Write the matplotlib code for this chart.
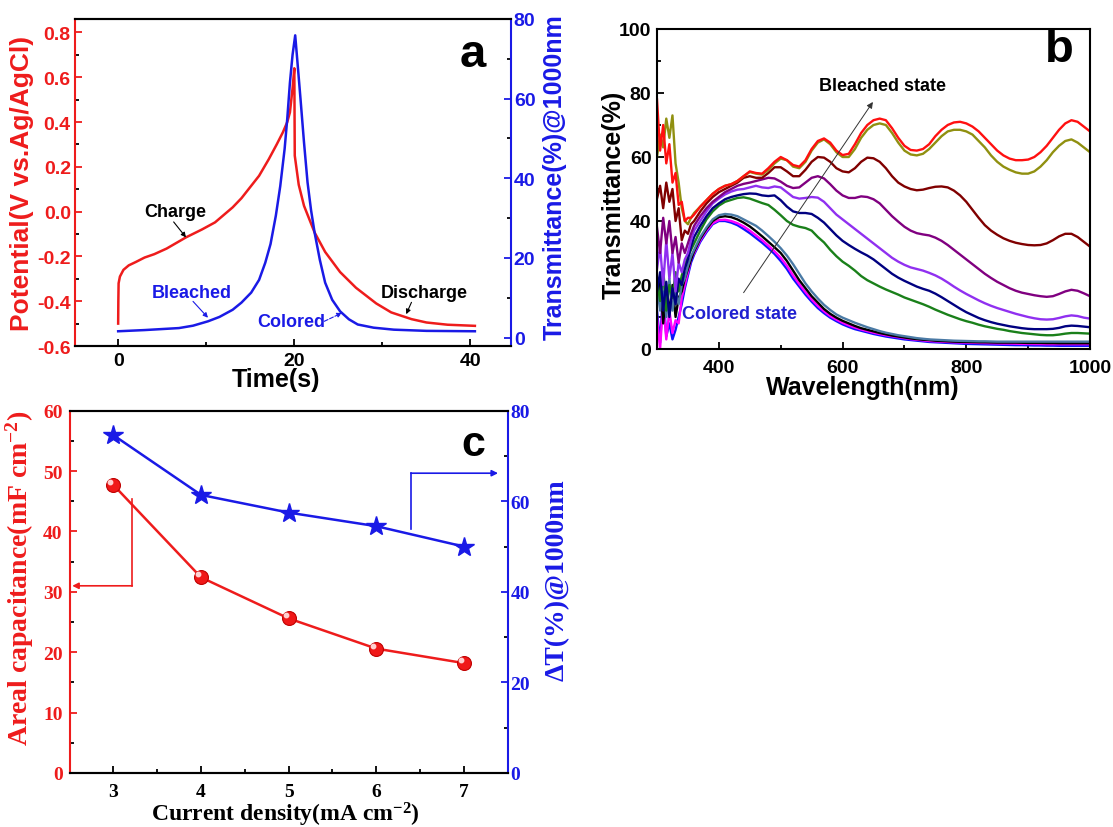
import matplotlib
matplotlib.use("Agg")
import matplotlib.pyplot as plt
from matplotlib.ticker import MultipleLocator
from matplotlib.transforms import ScaledTranslation

plt.rcParams["font.family"] = ["Liberation Sans", "DejaVu Sans"]
plt.rcParams["font.weight"] = "bold"
plt.rcParams["axes.labelweight"] = "bold"
plt.rcParams["mathtext.fontset"] = "custom"
plt.rcParams["mathtext.rm"] = "Liberation Serif:bold"
plt.rcParams["mathtext.bf"] = "Liberation Serif:bold"
plt.rcParams["mathtext.default"] = "bf"

RED = "#ee1c1c"
BLUE = "#1a1ae6"

# ---- panel a: charge / discharge and transmittance --------------------------
t_pot = [0, 0.02, 0.05, 0.2, 0.6, 1.2, 2, 3, 4.1, 5.5, 7.7, 9.5, 11, 13, 14, 15.1,
         16, 17.1, 18, 18.7, 19.2, 19.5, 19.8, 20.0, 20.05, 20.5, 21.1, 22.3, 23.5,
         25.2, 27, 29.3, 31, 33.3, 35, 37.4, 40.5]
potential = [-0.50, -0.40, -0.32, -0.29, -0.26, -0.24, -0.225, -0.205, -0.19, -0.165,
             -0.115, -0.08, -0.048, 0.019, 0.06, 0.115, 0.16, 0.234, 0.30, 0.354, 0.40,
             0.443, 0.55, 0.64, 0.25, 0.12, 0.026, -0.093, -0.18, -0.27, -0.34, -0.41,
             -0.45, -0.48, -0.495, -0.505, -0.51]
t_trans = [0, 3, 6.9, 8.5, 10.2, 11.5, 13, 14, 15.1, 16, 16.7, 17.3, 17.9, 18.4, 18.9,
           19.2, 19.5, 19.8, 20.1, 20.4, 20.7, 21.1, 21.5, 21.9, 22.3, 22.9, 23.5, 24.3,
           25.2, 26.2, 27.2, 29, 31.3, 35, 40.5]
trans = [1.6, 1.9, 2.4, 3.0, 4.1, 5.2, 7.0, 8.8, 11.3, 14.5, 18.8, 23.5, 30.6, 38, 47.4,
         55, 64, 71, 75.9, 68, 60, 49, 39, 32, 26.4, 19.5, 13.8, 9.5, 6.6, 4.6, 3.3, 2.5,
         2.0, 1.7, 1.6]

# ---- panel b: transmittance spectra ----------------------------------------
wl = [300, 305, 310, 315, 320, 325, 330, 335, 340, 345, 350, 355] + list(range(360, 1001, 10))

sp_red = [78, 62, 70, 58, 64, 52, 55, 45, 46, 40, 41, 41,
          42, 44.5, 46.5, 48.5, 50, 51, 51.5, 52.5, 54, 55.5,
          55, 54.8, 56.5, 58.5, 60, 59, 57.5, 57, 59, 62.5,
          65, 65.8, 64.5, 62, 60.6, 61, 64, 67.5, 70, 71.5,
          72, 71.5, 69, 66, 63.5, 62.2, 62, 62.5, 64, 66.5,
          68.5, 70, 70.8, 71, 70.5, 69.5, 68, 66, 64, 62,
          60.5, 59.5, 59, 59, 59.2, 60, 61.5, 63.5, 66, 68.5,
          70.5, 71.5, 71, 69.5, 68]
sp_olive = [60, 67, 63, 72, 66, 73, 58, 52, 44, 40, 39, 41,
            42.5, 44.5, 46.5, 48.5, 50, 51, 51.5, 52.5, 54, 55.3,
            54.8, 54.5, 56, 58, 59.5, 59, 57, 56.5, 58.5, 62,
            64.5, 65.5, 64, 61.5, 60, 60, 62.5, 66, 68.5, 70,
            70.5, 70, 67.5, 64.5, 62, 60.8, 60.5, 61, 62.5, 64.5,
            66.5, 68, 68.5, 68.5, 68, 67, 65, 63, 60.5, 58.5,
            57, 56, 55.2, 54.8, 54.8, 55.5, 57, 59, 61.5, 63.5,
            65, 65.5, 64.5, 63, 61.5]
sp_wine = [47, 51, 44, 52, 46, 50, 40, 44, 34, 37, 36, 39,
           40, 43, 45.5, 47.5, 49, 50, 51, 52, 53.5, 54,
           53.5, 53.5, 55, 56.8, 56.8, 55.5, 54, 54, 56, 58.5,
           60, 59.8, 58.5, 56.5, 55.5, 55.2, 56.5, 58.5, 59.8, 59.6,
           58.5, 56.5, 54, 52, 50.8, 50, 49.6, 49.8, 50.3, 50.7,
           50.8, 50.5, 49.5, 48, 46, 43.5, 41, 38.7, 37, 35.7,
           34.6, 33.8, 33.2, 32.8, 32.5, 32.4, 32.5, 33, 34, 35.2,
           36, 36, 35, 33.5, 32]
sp_purple = [38, 30, 41, 33, 40, 30, 35, 27, 33, 30, 33, 36,
             38.5, 41.5, 44, 46, 47.5, 49, 50, 51, 51.6, 52,
             52.5, 53, 53.5, 53.3, 52.3, 51, 50.3, 50.5, 52, 53.5,
             54, 53.3, 51.5, 49.5, 48, 47.2, 47.2, 47.7, 47.5, 46.8,
             45.5, 43.5, 41.5, 39.8, 38.2, 37, 36.2, 35.8, 35.5, 34.8,
             33.8, 32.5, 31, 29.5, 28, 26.5, 25, 23.5, 22.2, 21,
             20, 19, 18.2, 17.6, 17.2, 16.8, 16.5, 16.3, 16.5, 17.2,
             18, 18.5, 18.2, 17.4, 16.5]
sp_violet = [25, 32, 20, 34, 22, 30, 18, 27, 24, 28, 30, 34,
             37, 40, 43, 45.5, 47, 48.3, 49.2, 49.8, 50, 50.5,
             51, 50.5, 50.3, 50.8, 50.5, 49, 47.5, 47, 47.2, 47.5,
             47.3, 46, 44, 42, 40.5, 39, 37.5, 36, 34.5, 33,
             31.5, 30, 28.5, 27.3, 26.3, 25.5, 25, 24.5, 23.8, 23,
             22, 20.8, 19.5, 18.3, 17.2, 16.2, 15.2, 14.3, 13.5, 12.8,
             12.2, 11.6, 11, 10.5, 10, 9.6, 9.3, 9.2, 9.3, 9.7,
             10.2, 10.5, 10.3, 9.8, 9.5]
sp_navy = [18, 24, 12, 21, 10, 19, 14, 22, 20, 25, 28, 32,
           35, 38.5, 41.5, 44, 45.5, 46.8, 47.5, 48, 48.4, 48.6,
           48.5, 48, 47.8, 48, 46.5, 44.5, 43, 42.5, 42.5, 42.2,
           41, 39.5, 37.5, 35.5, 33.8, 32.5, 31.3, 30.2, 29.2, 28,
           26.5, 25, 23.5, 22.3, 21.3, 20.4, 19.5, 18.8, 18.2, 17.3,
           16.2, 15, 13.8, 12.6, 11.5, 10.6, 9.7, 9, 8.4, 7.9,
           7.5, 7.1, 6.8, 6.5, 6.3, 6.2, 6.2, 6.2, 6.3, 6.6,
           7.1, 7.3, 7.2, 7, 6.8]
sp_green = [22, 15, 25, 12, 20, 16, 24, 18, 23, 26, 29, 31,
            33, 37, 40.5, 43, 44.8, 46, 46.6, 47.2, 47.4, 47,
            46.3, 45.6, 45, 43.5, 41.8, 40, 38.8, 38.2, 37.8, 37,
            35, 33.3, 31, 29, 27.3, 26, 24.5, 22.8, 21.5, 20.5,
            19.5, 18.6, 17.8, 17, 16.1, 15.4, 14.7, 14, 13.2, 12.3,
            11.5, 10.7, 10, 9.3, 8.7, 8.2, 7.6, 7.1, 6.7, 6.3,
            6, 5.6, 5.3, 5, 4.8, 4.6, 4.4, 4.3, 4.3, 4.5,
            4.8, 5, 5, 4.9, 4.8]
sp_steel = [20, 12, 25, 10, 22, 12, 18, 14, 20, 22, 26, 29,
            31, 35, 38, 40.5, 41.8, 42.2, 42, 41.5, 40.5, 39.5,
            38.5, 37, 35.3, 33.5, 31.5, 29.2, 26.5, 23.5, 20.5, 18,
            15.8, 13.8, 12.2, 10.8, 9.8, 9, 8.2, 7.5, 6.8, 6.2,
            5.6, 5.1, 4.7, 4.3, 4, 3.7, 3.4, 3.2, 3, 2.9,
            2.8, 2.7, 2.6, 2.55, 2.5, 2.45, 2.4, 2.4, 2.35, 2.3,
            2.3, 2.3, 2.3, 2.3, 2.3, 2.3, 2.3, 2.3, 2.3, 2.3,
            2.3, 2.3, 2.3, 2.3, 2.3]
sp_black = [15, 22, 8, 18, 12, 20, 10, 16, 18, 22, 25, 28,
            30.5, 34.5, 37.5, 40, 41.2, 41.5, 41.2, 40.5, 39.5, 38.3,
            36.8, 35.2, 33.5, 31.8, 30, 27.5, 24.5, 21.5, 19, 16.5,
            14.5, 12.5, 11, 9.8, 8.8, 8, 7.2, 6.5, 6, 5.5,
            5, 4.6, 4.2, 3.9, 3.6, 3.3, 3.1, 2.9, 2.8, 2.6,
            2.5, 2.4, 2.3, 2.25, 2.2, 2.15, 2.1, 2.1, 2.05, 2,
            2, 2, 2, 1.95, 1.9, 1.9, 1.9, 1.85, 1.85, 1.8,
            1.8, 1.8, 1.8, 1.8, 1.8]
sp_magenta = [10, 0, 15, 3, 12, 5, 9, 8, 16, 20, 24, 28,
              30, 34, 37, 39.3, 40.3, 40.4, 40, 39.3, 38.3, 37,
              35.5, 34, 32.3, 30.5, 28.5, 26, 23, 20.3, 17.8, 15.5,
              13.5, 11.8, 10.3, 9.2, 8.2, 7.4, 6.7, 6.1, 5.6, 5.1,
              4.7, 4.3, 4, 3.7, 3.4, 3.1, 2.9, 2.7, 2.5, 2.4,
              2.3, 2.2, 2.1, 2.05, 2, 1.95, 1.9, 1.85, 1.8, 1.75,
              1.7, 1.7, 1.65, 1.6, 1.6, 1.55, 1.55, 1.5, 1.5, 1.5,
              1.5, 1.5, 1.5, 1.5, 1.5]
sp_blue = [12, 2, 18, 4, 8, 3, 6, 10, 14, 19, 23, 27,
           29.5, 33.5, 36.5, 39, 40, 40, 39.5, 38.7, 37.5, 36.2,
           34.7, 33.2, 31.5, 29.7, 27.5, 25, 22, 19.5, 17, 14.8,
           12.8, 11.2, 9.8, 8.7, 7.7, 6.9, 6.2, 5.7, 5.2, 4.7,
           4.3, 3.9, 3.6, 3.3, 3, 2.8, 2.6, 2.4, 2.2, 2.1,
           2, 1.9, 1.8, 1.7, 1.6, 1.55, 1.5, 1.45, 1.4, 1.35,
           1.3, 1.25, 1.2, 1.2, 1.15, 1.1, 1.1, 1.05, 1.05, 1,
           1, 1, 1, 1, 1]

spectra = [(sp_blue, "#1010ff"), (sp_magenta, "#ff00ff"), (sp_black, "#000000"),
           (sp_steel, "#4a7aa5"), (sp_green, "#1a801a"), (sp_navy, "#000080"),
           (sp_violet, "#9030f0"), (sp_purple, "#800080"), (sp_wine, "#800000"),
           (sp_olive, "#909010"), (sp_red, "#ff1010")]

# ---- panel c: rate dependence ----------------------------------------------
current = [3, 4, 5, 6, 7]
capacitance = [47.7, 32.4, 25.6, 20.6, 18.2]
delta_t = [74.6, 61.4, 57.5, 54.5, 50.0]

W, H = 1113, 828
fig = plt.figure(figsize=(W / 100, H / 100), dpi=100)


def box(l, r, t, b):
    return [l / W, 1 - b / H, (r - l) / W, (b - t) / H]


def ticks(ax, **kw):
    ax.tick_params(which="both", direction="in", width=1.3, **kw)
    ax.tick_params(which="major", length=5)
    ax.tick_params(which="minor", length=3)


def arrow(ax, tail, tip, color, lw=0.8, ms=7, ls="-"):
    ax.annotate("", xy=tip, xytext=tail,
                arrowprops=dict(arrowstyle="-|>", lw=lw, color=color, ls=ls,
                                mutation_scale=ms, shrinkA=0, shrinkB=0))


# ---------------- a ----------------
axa = fig.add_axes(box(75, 511, 20, 347))
axa2 = axa.twinx()
axa.plot(t_pot, potential, color=RED, lw=1.8)
axa2.plot(t_trans, trans, color=BLUE, lw=1.8)
axa.set_xlim(-4.9, 44.6)
axa.set_ylim(-0.6, 0.86)
axa2.set_ylim(-2.1, 80)
axa.xaxis.set_major_locator(MultipleLocator(20))
axa.xaxis.set_minor_locator(MultipleLocator(10))
axa.yaxis.set_major_locator(MultipleLocator(0.2))
axa.yaxis.set_minor_locator(MultipleLocator(0.1))
axa2.yaxis.set_major_locator(MultipleLocator(20))
axa2.yaxis.set_minor_locator(MultipleLocator(10))
axa.yaxis.set_major_formatter(lambda v, p: f"{v:.1f}")
for ax in (axa, axa2):
    for s in ax.spines.values():
        s.set_linewidth(1.5)
axa.spines["left"].set_color(RED)
axa2.spines["right"].set_color(BLUE)
axa2.spines["left"].set_visible(False)
axa.spines["right"].set_visible(False)
ticks(axa, labelsize=14, pad=3)
axa.tick_params(axis="x", pad=4, top=False)
axa.tick_params(axis="y", colors=RED)
ticks(axa2, labelsize=14, pad=2)
axa2.tick_params(axis="y", colors=BLUE)
axa.set_xlabel("Time(s)", fontsize=18)
axa.xaxis.set_label_coords(0.46, -0.065)
axa.set_ylabel("Potential(V vs.Ag/AgCl)", fontsize=19, color=RED)
axa.yaxis.set_label_coords(-0.094, 0.5)
axa2.set_ylabel("Transmittance(%)@1000nm", fontsize=18, color=BLUE)
axa2.yaxis.set_label_coords(1.072, 0.52)
axa.text(0.913, 0.893, "a", transform=axa.transAxes, fontsize=34,
         ha="center", va="center")
axa.text(6.5, 0.0, "Charge", fontsize=13, ha="center", va="center")
arrow(axa, (6.3, -0.046), (7.7, -0.115), "k")
axa.text(34.8, -0.36, "Discharge", fontsize=13, ha="center", va="center")
arrow(axa, (33.3, -0.405), (32.7, -0.458), "k")
axa2.text(8.3, 11.3, "Bleached", fontsize=13, color=BLUE, ha="center", va="center")
arrow(axa2, (8.5, 9.1), (10.2, 5.0), BLUE)
axa2.text(19.7, 4.1, "Colored", fontsize=13, color=BLUE, ha="center", va="center")
arrow(axa2, (23.4, 4.1), (25.4, 6.2), BLUE, ls="--")

# ---------------- b ----------------
axb = fig.add_axes(box(657, 1090, 30, 350))
for ys, col in spectra:
    axb.plot(wl, ys, color=col, lw=1.7)
axb.set_xlim(300, 1000)
axb.set_ylim(0, 100)
axb.xaxis.set_major_locator(MultipleLocator(200))
axb.xaxis.set_minor_locator(MultipleLocator(100))
axb.yaxis.set_major_locator(MultipleLocator(20))
axb.yaxis.set_minor_locator(MultipleLocator(10))
for s in axb.spines.values():
    s.set_linewidth(1.5)
ticks(axb, labelsize=14)
axb.tick_params(axis="x", pad=7)
axb.tick_params(axis="y", pad=4)
axb.set_xlabel("Wavelength(nm)", fontsize=18)
axb.xaxis.set_label_coords(0.476, -0.08)
axb.set_ylabel("Transmittance(%)", fontsize=18)
axb.yaxis.set_label_coords(-0.072, 0.484)
axb.text(0.93, 0.9375, "b", transform=axb.transAxes, fontsize=34,
         ha="center", va="center")
arrow(axb, (440, 17.6), (649, 77.2), "#333333", lw=0.7, ms=9)
axb.text(664, 82.2, "Bleached state", fontsize=13, ha="center", va="center")
axb.text(340, 11.1, "Colored state", fontsize=13, color="#2020d0",
         ha="left", va="center")

# ---------------- c ----------------
SERIF = ["Liberation Serif", "DejaVu Serif"]
axc = fig.add_axes(box(69.6, 507.7, 411.7, 774))
axc2 = axc.twinx()
axc.plot(current, capacitance, color=RED, lw=1.8, marker="o", ms=10,
         mfc="#f01818", mec="#c00000", mew=0.8, zorder=3)
hl = axc.transData + ScaledTranslation(-2.2 / 72, 2.2 / 72, fig.dpi_scale_trans)
axc.plot(current, capacitance, ls="none", marker="o", ms=3.2, color="#ffd0d0",
         transform=hl, zorder=4)
axc2.plot(current, delta_t, color=BLUE, lw=1.8, marker="*", ms=15,
          mfc=BLUE, mec=BLUE)
axc.set_xlim(2.5, 7.5)
axc.set_ylim(0, 60)
axc2.set_ylim(0, 80)
axc.xaxis.set_major_locator(MultipleLocator(1))
axc.xaxis.set_minor_locator(MultipleLocator(0.5))
axc.yaxis.set_major_locator(MultipleLocator(10))
axc.yaxis.set_minor_locator(MultipleLocator(5))
axc2.yaxis.set_major_locator(MultipleLocator(20))
axc2.yaxis.set_minor_locator(MultipleLocator(10))
for ax in (axc, axc2):
    for s in ax.spines.values():
        s.set_linewidth(1.5)
axc.spines["left"].set_color(RED)
axc2.spines["right"].set_color(BLUE)
axc2.spines["left"].set_visible(False)
axc.spines["right"].set_visible(False)
ticks(axc, labelsize=14, labelfontfamily=SERIF)
axc.tick_params(axis="x", pad=7, top=False)
axc.tick_params(axis="y", colors=RED, pad=5)
ticks(axc2, labelsize=14, labelfontfamily=SERIF, pad=2)
axc2.tick_params(axis="y", colors=BLUE)
axc.set_xlabel("Current density(mA cm$^{-2}$)", fontsize=17, family=SERIF)
axc.xaxis.set_label_coords(0.493, -0.075)
axc.set_ylabel("Areal capacitance(mF cm$^{-2}$)", fontsize=20,
               family=SERIF, color=RED)
axc.yaxis.set_label_coords(-0.077, 0.54)
axc2.set_ylabel("\u0394T(%)@1000nm", fontsize=20, family=SERIF, color=BLUE)
axc2.yaxis.set_label_coords(1.084, 0.535)
axc.text(0.921, 0.908, "c", transform=axc.transAxes, fontsize=31,
         ha="center", va="center")
axc.plot([3.21, 3.21], [45.4, 31.0], color=RED, lw=1.2)
arrow(axc, (3.215, 31.0), (2.53, 31.0), RED, lw=1.2, ms=9)
axc2.plot([6.40, 6.40], [53.9, 66.2], color=BLUE, lw=1.2)
arrow(axc2, (6.395, 66.2), (7.39, 66.2), BLUE, lw=1.2, ms=9)

fig.savefig("out.png", dpi=100, facecolor="white")
